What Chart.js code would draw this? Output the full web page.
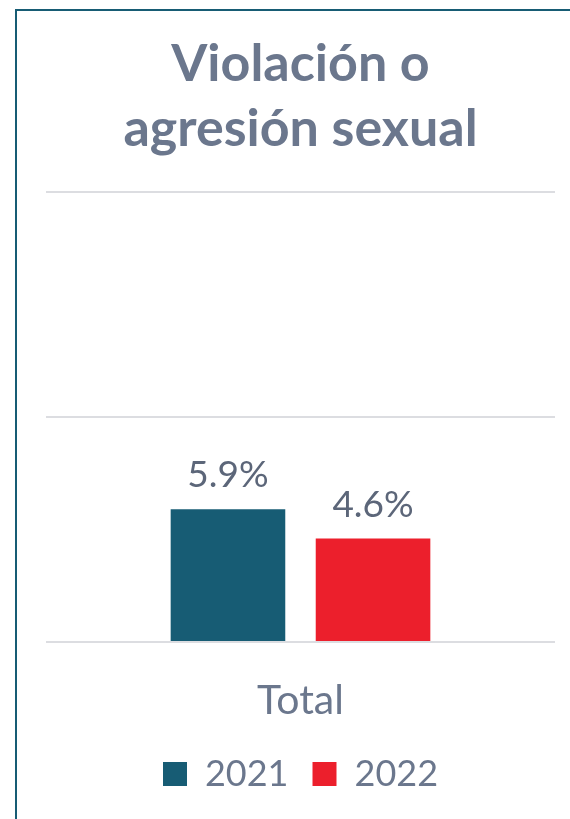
<!DOCTYPE html>
<html>
<head>
<meta charset="utf-8">
<script src="https://cdn.jsdelivr.net/npm/chart.js@4"></script>
<style>
  html, body { margin: 0; padding: 0; background: #fff; }
  .card {
    position: absolute;
    left: 15px;
    top: 9px;
    width: 555px;
    height: 810px;
    border-left: 2px solid #175c74;
    border-top: 2px solid #175c74;
  }
  .card canvas { display: block; }
</style>
</head>
<body>
<div class="card">
  <canvas id="myChart" width="553" height="808"></canvas>
</div>
<script>
// data
const categories = ['Total'];
const years = ['2021', '2022'];
const values2021 = [5.9];
const values2022 = [4.6];
const yTicks = [0, 10, 20];

const textColor = '#6b778d';
const labelColor = '#5c6679';
const fontFamily = 'Lato, "Open Sans", sans-serif';

// value labels above the bars
const barLabels = {
    id: 'barLabels',
    afterDatasetsDraw(chart) {
        const ctx = chart.ctx;
        ctx.save();
        ctx.font = '37px ' + fontFamily;
        ctx.fillStyle = labelColor;
        ctx.textAlign = 'center';
        ctx.textBaseline = 'alphabetic';
        chart.data.datasets.forEach((ds, i) => {
            const meta = chart.getDatasetMeta(i);
            meta.data.forEach((bar, j) => {
                ctx.fillText(ds.data[j].toFixed(1) + '%', bar.x, bar.y - 22);
            });
        });
        ctx.restore();
    }
};

const chartData = {
    labels: categories,
    datasets: [{
        label: years[0],
        data: values2021,
        backgroundColor: '#175c74',
        categoryPercentage: 0.57,
        barPercentage: 0.79
    }, {
        label: years[1],
        data: values2022,
        backgroundColor: '#ec1f2c',
        categoryPercentage: 0.57,
        barPercentage: 0.79
    }]
};

const chartOptions = {
    responsive: false,
    animation: false,
    layout: {
        padding: { top: 8, left: 29, right: 15, bottom: 17 }
    },
    scales: {
        y: {
            min: yTicks[0],
            max: yTicks[yTicks.length - 1],
            afterBuildTicks: axis => { axis.ticks = yTicks.map(v => ({ value: v })); },
            ticks: { display: false },
            grid: { color: '#dcdde1', lineWidth: 2, drawTicks: false },
            border: { display: false }
        },
        x: {
            grid: { display: false },
            border: { display: false },
            afterFit: axis => { axis.height = 90; },
            ticks: {
                color: textColor,
                padding: 26,
                font: { family: fontFamily, size: 41 }
            }
        }
    },
    plugins: {
        title: {
            display: true,
            text: ['Violación o', 'agresión sexual'],
            color: textColor,
            font: { family: fontFamily, size: 52, weight: 'bold', lineHeight: 1.25 },
            padding: { top: 13, bottom: 30 }
        },
        legend: {
            display: true,
            position: 'bottom',
            labels: {
                color: textColor,
                boxWidth: 24,
                boxHeight: 24,
                padding: 24,
                font: { family: fontFamily, size: 36 }
            }
        },
        tooltip: { enabled: false }
    }
};

const ctx = document.getElementById('myChart').getContext('2d');
new Chart(ctx, {
    type: 'bar',
    data: chartData,
    options: chartOptions,
    plugins: [barLabels]
});
</script>
</body>
</html>
